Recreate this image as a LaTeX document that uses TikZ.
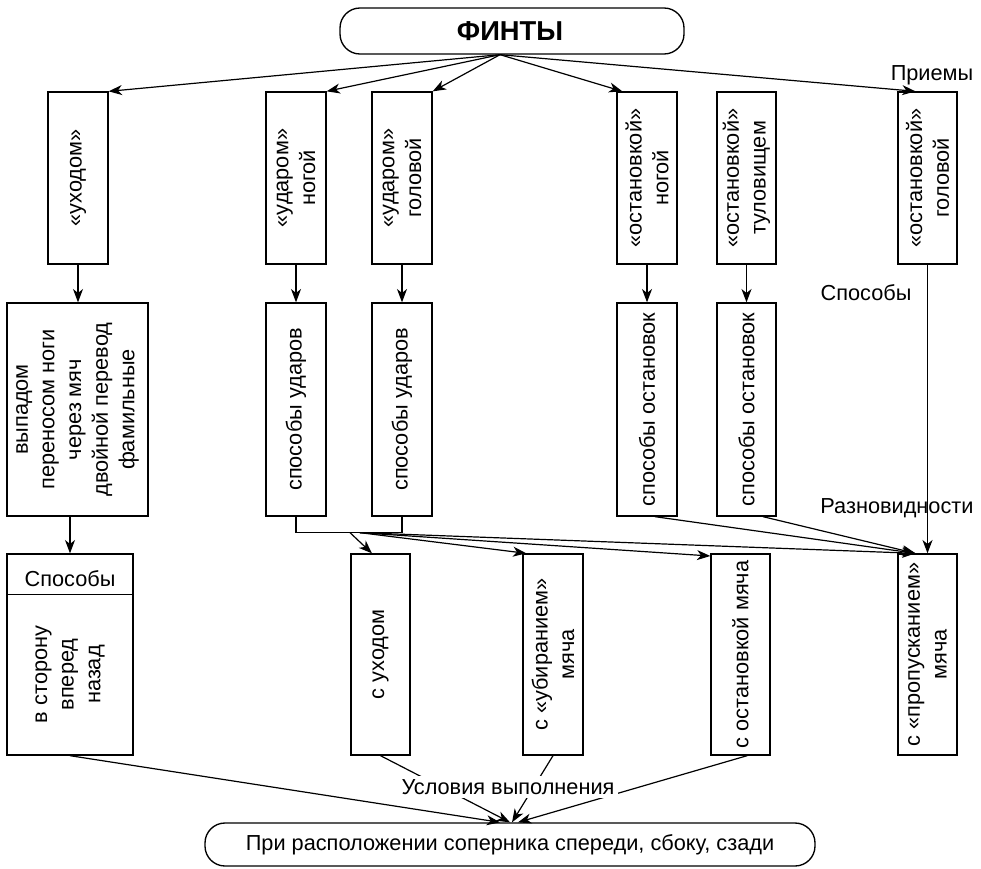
\documentclass[tikz,border=0pt]{standalone}
\usepackage{fontspec}
\setmainfont{Liberation Sans}
\usetikzlibrary{arrows.meta,fit,calc}
\begin{document}
\begin{tikzpicture}[x=0.75pt,y=-0.75pt,
  font=\fontsize{16.3}{20}\selectfont,
  box/.style={draw, line width=1pt, inner sep=0pt, fit={#1}},
  pill/.style={draw, line width=1pt, rounded corners=15pt, inner sep=0pt, fit={#1}},
  vtext/.style={rotate=90, align=center, inner sep=0pt},
  lbl/.style={inner sep=1pt},
  cut/.style={fill=white, inner sep=2.5pt},
  arr/.style={-{Stealth[length=10pt,width=7.5pt,inset=3pt]}, line width=0.9pt},
  wire/.style={line width=0.9pt}]
\useasboundingbox (0,0) rectangle (981,868);

% title
\node[pill={(340,8) (684,54)}] (top) {};
\node[font=\fontsize{20.5}{24}\selectfont\bfseries] (topt) at ([xshift=-1.5pt]top.center) {ФИНТЫ};
\coordinate (tp) at ([xshift=-9pt]top.south);

% techniques
\node[box={(48,92) (108,264)}] (p1) {};
\node[vtext] (p1t) at (p1) {«уходом»};
\node[box={(266,92) (326,264)}] (p2) {};
\node[vtext] (p2t) at (p2) {«ударом»\\ногой};
\node[box={(372,92) (432,264)}] (p3) {};
\node[vtext] (p3t) at (p3) {«ударом»\\головой};
\node[box={(617,92) (677,264)}] (p4) {};
\node[vtext] (p4t) at (p4) {«остановкой»\\ногой};
\node[box={(717,92) (776,264)}] (p5) {};
\node[vtext] (p5t) at (p5) {«остановкой»\\туловищем};
\node[box={(898,92) (957,264)}] (p6) {};
\node[vtext] (p6t) at (p6) {«остановкой»\\головой};

% ways
\node[box={(7,303) (148,516)}] (s1) {};
\node[vtext] (s1t) at (s1) {выпадом\\переносом ноги\\через мяч\\двойной перевод\\фамильные};
\node[box={(266,303) (326,516)}] (s2) {};
\node[vtext] (s2t) at (s2) {способы ударов};
\node[box={(372,303) (432,516)}] (s3) {};
\node[vtext] (s3t) at (s3) {способы ударов};
\node[box={(617,303) (677,516)}] (s4) {};
\node[vtext] (s4t) at (s4) {способы остановок};
\node[box={(717,303) (776,516)}] (s5) {};
\node[vtext] (s5t) at (s5) {способы остановок};

% kinds
\node[box={(7,554) (133,755)}] (r0) {};
\draw[line width=1pt] ([yshift=-30.75pt]r0.north west) -- ([yshift=-30.75pt]r0.north east);
\node (r0h) at ([yshift=-18.75pt]r0.north) {Способы};
\node[vtext] (r0t) at ([yshift=-15pt]r0.center) {в сторону\\вперед\\назад};
\node[box={(351,554) (410,755)}] (r1) {};
\node[vtext] (r1t) at (r1) {с уходом};
\node[box={(523,554) (583,755)}] (r2) {};
\node[vtext] (r2t) at (r2) {с «убиранием»\\мяча};
\node[box={(711,554) (770,755)}] (r3) {};
\node[vtext] (r3t) at (r3) {с остановкой мяча};
\node[box={(898,554) (957,755)}] (r4) {};
\node[vtext] (r4t) at (r4) {с «пропусканием»\\мяча};

% conditions
\node[pill={(205,823) (815,866)}] (bot) {};
\node (bott) at (bot) {При расположении соперника спереди, сбоку, сзади};

% connectors: title to techniques
\draw[arr] (tp) -- (p1.north east);
\draw[arr] (tp) -- (p2.north east);
\draw[arr] (tp) -- (p3.north east);
\draw[arr] (tp) -- ([xshift=4.5pt]p4.north west);
\draw[arr] (tp) -- ([xshift=-9pt]p6.north);

% techniques to ways
\draw[arr] (p1.south) -- (p1.south |- s1.north);
\draw[arr] (p2.south) -- (s2.north);
\draw[arr] (p3.south) -- (s3.north);
\draw[arr] (p4.south) -- (s4.north);
\draw[arr] (p5.south) -- (s5.north);
\draw[arr] (p6.south) -- (r4.north);
\draw[arr] (s1.south -| r0.north) -- (r0.north);

% ways to kinds
\draw[wire] (s2.south) -- ++(0,16) -| (s3.south);
\coordinate (j1) at ($(s2.south)+(54,16)$);
\coordinate (j2) at ($(s2.south)+(64,16)$);
\draw[arr] (j1) -- ([xshift=-6.4pt]r1.north);
\draw[arr] (j2) -- ([xshift=3pt]r2.north west);
\draw[arr] (j2) -- ([yshift=-2pt]r3.north west);
\draw[arr] (j2) -- ([xshift=-9pt]r4.north);
\draw[arr] ([xshift=6pt]s4.south) -- ([xshift=-9pt]r4.north);
\draw[arr] ([xshift=12.4pt]s5.south) -- ([xshift=-9pt]r4.north);

% kinds to conditions
\draw[arr] (r0.south) -- ([xshift=-7.5pt]bot.north);
\draw[arr] (r1.south) -- (bot.north);
\draw[arr] (r2.south) -- ([xshift=1.5pt]bot.north);
\draw[arr] ([xshift=5pt]r3.south) -- ([xshift=6pt]bot.north);

% level labels
\node[lbl] (l1) at (932,75) {Приемы};
\node[lbl] (l2) at (866,293) {Способы};
\node[lbl] (l3) at (897,508) {Разновидности};
\node[cut] (l4) at (508,787) {Условия выполнения};
\end{tikzpicture}
\end{document}
